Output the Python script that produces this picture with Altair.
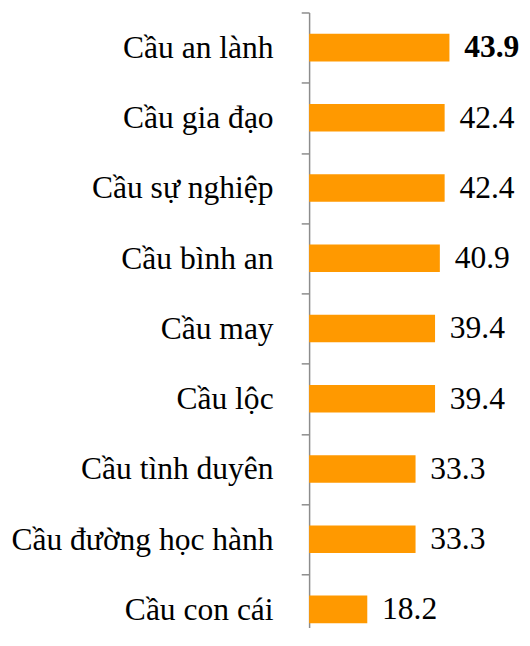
import altair as alt
import pandas as pd

categories = ["Cầu an lành", "Cầu gia đạo", "Cầu sự nghiệp", "Cầu bình an", "Cầu may",
              "Cầu lộc", "Cầu tình duyên", "Cầu đường học hành", "Cầu con cái"]
values = [43.9, 42.4, 42.4, 40.9, 39.4, 39.4, 33.3, 33.3, 18.2]

df = pd.DataFrame({"cat": categories, "val": values})
df["label"] = df["val"].map(lambda v: f"{v:.1f}")

FONT = "Liberation Serif"
H = 624
W = 216
STEP = 71.25
BW = 28
N = len(categories)
PI = 1 - BW / STEP
PO = (H / STEP - N + PI) / 2
ALIGN = ((STEP - BW) / 2) / (H - STEP * (N - PI))
GAP = (STEP - BW) / 2
TOP = max(values)
GRAY = "#8c8c8c"

yscale = alt.Scale(type="band", paddingInner=PI, paddingOuter=PO, align=ALIGN)
y = alt.Y("cat:N", sort=categories, scale=yscale,
          axis=alt.Axis(title=None, labelFont=FONT, labelFontSize=32, labelColor="black",
                        labelPadding=28.5, ticks=True, tickSize=8, tickWidth=1.5,
                        tickColor=GRAY, bandPosition=0, tickExtra=False,
                        tickOffset=-GAP, labelOffset=GAP,
                        domainColor=GRAY, domainWidth=1.5, labelLimit=400))
x = alt.X("val:Q", scale=alt.Scale(domain=[0, 66.6], nice=False, zero=True), axis=None)

bars = alt.Chart(df).mark_bar(color="#FF9900").encode(y=y, x=x)

text_norm = alt.Chart(df).transform_filter(alt.datum.val < TOP).mark_text(
    align="left", baseline="middle", dx=15, font=FONT, fontSize=32, color="black").encode(
    y=alt.Y("cat:N", sort=categories), x=x, text="label:N")
text_bold = alt.Chart(df).transform_filter(alt.datum.val >= TOP).mark_text(
    align="left", baseline="middle", dx=15, font=FONT, fontSize=32, fontWeight="bold",
    color="black").encode(
    y=alt.Y("cat:N", sort=categories), x=x, text="label:N")

chart = alt.layer(bars, text_norm, text_bold).properties(
    width=W, height=H,
    autosize=alt.AutoSizeParams(type="none"),
    padding={"left": 305.5, "top": 0, "right": 0, "bottom": 0},
).configure_view(stroke=None)

chart.save("out.html", embed_options={"renderer": "svg", "actions": False})
